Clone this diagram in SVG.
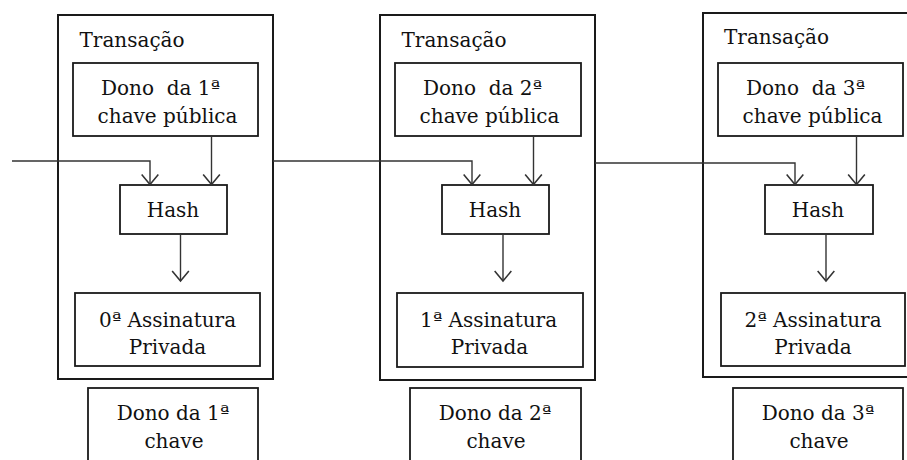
<svg xmlns="http://www.w3.org/2000/svg" width="907" height="460" viewBox="0 0 907 460">
  <style>
    .box { fill: #fff; stroke: #1a1a1a; stroke-width: 1.8; }
    .outer { fill: none; stroke: #1a1a1a; stroke-width: 2; }
    .conn { fill: none; stroke: #333; stroke-width: 1.4; }
    .t { font-family: "DejaVu Serif", "Liberation Serif", serif; font-size: 20px; fill: #111; }
    .c { text-anchor: middle; }
  </style>
  <defs>
    <marker id="arr" markerUnits="userSpaceOnUse" markerWidth="20" markerHeight="20" viewBox="-11 -9 12 18" refX="0" refY="0" orient="auto">
      <path d="M-9,-7.5 L0,0 L-9,7.5" fill="none" stroke="#333" stroke-width="1.4"/>
    </marker>
  </defs>
  <rect width="907" height="460" fill="#fff"/>

  <!-- Panel 1 -->
  <g id="transacao1">
    <rect class="outer" x="58" y="15" width="215" height="364"/>
    <text class="t" x="79.5" y="46.5">Transação</text>
  </g>
  <g id="dono1_publica">
    <rect class="box" x="73" y="63" width="185" height="73"/>
    <text class="t c" x="160.5" y="94.5" xml:space="preserve">Dono  da 1ª</text>
    <text class="t c" x="167.5" y="122.5">chave pública</text>
  </g>
  <g id="hash1">
    <rect class="box" x="120" y="185" width="107" height="49"/>
    <text class="t c" x="173" y="217">Hash</text>
  </g>
  <g id="assinatura0">
    <rect class="box" x="75" y="293" width="185" height="73"/>
    <text class="t c" x="167.5" y="327">0ª Assinatura</text>
    <text class="t c" x="167.5" y="353.5">Privada</text>
  </g>
  <g id="dono1_chave">
    <rect class="box" x="88" y="388" width="170" height="82"/>
    <text class="t c" x="173" y="420">Dono da 1ª</text>
    <text class="t c" x="174" y="448">chave</text>
  </g>

  <!-- Panel 2 -->
  <g id="transacao2">
    <rect class="outer" x="380" y="15" width="215" height="365"/>
    <text class="t" x="401.5" y="46.5">Transação</text>
  </g>
  <g id="dono2_publica">
    <rect class="box" x="395" y="63" width="186" height="73"/>
    <text class="t c" x="482.5" y="94.5" xml:space="preserve">Dono  da 2ª</text>
    <text class="t c" x="489.5" y="122.5">chave pública</text>
  </g>
  <g id="hash2">
    <rect class="box" x="442" y="185" width="107" height="49"/>
    <text class="t c" x="495" y="217">Hash</text>
  </g>
  <g id="assinatura1">
    <rect class="box" x="397" y="293" width="186" height="74"/>
    <text class="t c" x="488.5" y="327">1ª Assinatura</text>
    <text class="t c" x="489.5" y="353.5">Privada</text>
  </g>
  <g id="dono2_chave">
    <rect class="box" x="410" y="388" width="171" height="82"/>
    <text class="t c" x="495" y="420">Dono da 2ª</text>
    <text class="t c" x="496" y="448">chave</text>
  </g>

  <!-- Panel 3 -->
  <g id="transacao3">
    <rect class="outer" x="703" y="13" width="215" height="364"/>
    <text class="t" x="724" y="43.5">Transação</text>
  </g>
  <g id="dono3_publica">
    <rect class="box" x="718" y="63" width="185" height="73"/>
    <text class="t c" x="805.5" y="94.5" xml:space="preserve">Dono  da 3ª</text>
    <text class="t c" x="812.5" y="122.5">chave pública</text>
  </g>
  <g id="hash3">
    <rect class="box" x="765" y="185" width="108" height="49"/>
    <text class="t c" x="818" y="217">Hash</text>
  </g>
  <g id="assinatura2">
    <rect class="box" x="721" y="293" width="184" height="73"/>
    <text class="t c" x="813" y="327">2ª Assinatura</text>
    <text class="t c" x="813" y="353.5">Privada</text>
  </g>
  <g id="dono3_chave">
    <rect class="box" x="733" y="388" width="170" height="82"/>
    <text class="t c" x="818" y="420">Dono da 3ª</text>
    <text class="t c" x="819" y="448">chave</text>
  </g>

  <!-- Connectors -->
  <g id="connectors">
    <path class="conn" d="M12,161 H150 V184.5" marker-end="url(#arr)"/>
    <path class="conn" d="M211.5,136 V184.5" marker-end="url(#arr)"/>
    <path class="conn" d="M180.5,234 V281" marker-end="url(#arr)"/>
    <path class="conn" d="M273,161 H472 V184.5" marker-end="url(#arr)"/>
    <path class="conn" d="M533.5,136 V184.5" marker-end="url(#arr)"/>
    <path class="conn" d="M503,234 V281" marker-end="url(#arr)"/>
    <path class="conn" d="M595,163 H795 V184.5" marker-end="url(#arr)"/>
    <path class="conn" d="M856.5,136 V184.5" marker-end="url(#arr)"/>
    <path class="conn" d="M826,234 V281" marker-end="url(#arr)"/>
  </g>
</svg>
